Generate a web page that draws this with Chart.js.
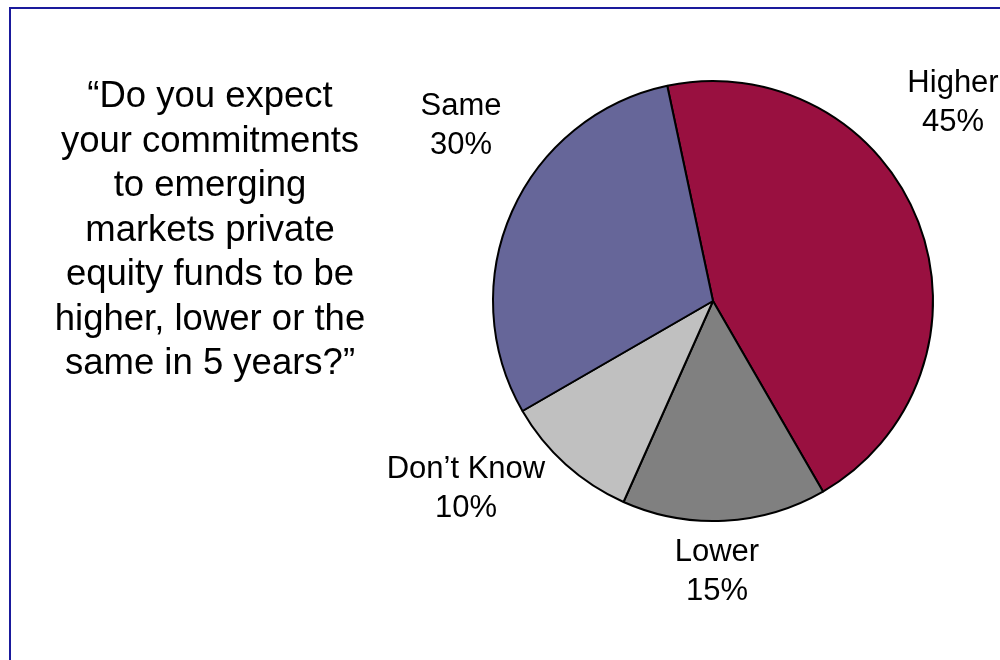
<!DOCTYPE html>
<html>
<head>
<meta charset="utf-8">
<title>Emerging markets private equity commitments</title>
<script src="https://cdn.jsdelivr.net/npm/chart.js@4"></script>
<style>
  html, body { margin: 0; padding: 0; background: #ffffff; }
  body { width: 1000px; height: 660px; position: relative; overflow: hidden; }
  #frame {
    position: absolute; left: 9px; top: 7px; width: 1100px; height: 800px;
    border: 2px solid #1a1a9c; box-sizing: border-box;
  }
  #question {
    position: absolute; left: 10px; top: 73px; width: 400px;
    text-align: center; color: #000000;
    font-family: "Liberation Sans", Arial, sans-serif;
    font-size: 36.5px; line-height: 44.5px;
  }
  #chart { position: absolute; left: 0; top: 0; }
</style>
</head>
<body>
<div id="frame"></div>
<canvas id="chart" width="1000" height="660"></canvas>
<div id="question">“Do you expect<br>your commitments<br>to emerging<br>markets private<br>equity funds to be<br>higher, lower or the<br>same in 5 years?”</div>
<script>
// Survey answers, in drawing order (clockwise from the start angle)
const categories = ["Higher", "Lower", "Don’t Know", "Same"];
const shares = [45, 15, 10, 30];
const sliceColors = ["#991040", "#808080", "#c0c0c0", "#666699"];

// Where each two-line label sits, relative to the pie centre, in radii
const labelAnchors = [
  [1.091, -0.902],
  [0.018, 1.232],
  [-1.123, 0.855],
  [-1.145, -0.795]
];

const sliceLabels = {
  id: "sliceLabels",
  afterDatasetsDraw(chart) {
    const ctx = chart.ctx;
    const meta = chart.getDatasetMeta(0);
    ctx.save();
    ctx.fillStyle = "#000000";
    ctx.font = "31px 'Liberation Sans', Arial, sans-serif";
    ctx.textAlign = "center";
    ctx.textBaseline = "middle";
    meta.data.forEach((arc, i) => {
      const r = arc.outerRadius;
      const x = arc.x + labelAnchors[i][0] * r;
      const y = arc.y + labelAnchors[i][1] * r;
      ctx.fillText(chart.data.labels[i], x, y - 19.5);
      ctx.fillText(chart.data.datasets[0].data[i] + "%", x, y + 19.5);
    });
    ctx.restore();
  }
};

new Chart(document.getElementById("chart"), {
  type: "pie",
  data: {
    labels: categories,
    datasets: [{
      data: shares,
      backgroundColor: sliceColors,
      borderColor: "#000000",
      borderWidth: 2
    }]
  },
  options: {
    responsive: false,
    animation: false,
    rotation: -12,
    radius: 220,
    layout: { padding: { left: 493, right: 67, top: 81, bottom: 139 } },
    plugins: {
      legend: { display: false },
      tooltip: { enabled: false }
    }
  },
  plugins: [sliceLabels]
});
</script>
</body>
</html>
